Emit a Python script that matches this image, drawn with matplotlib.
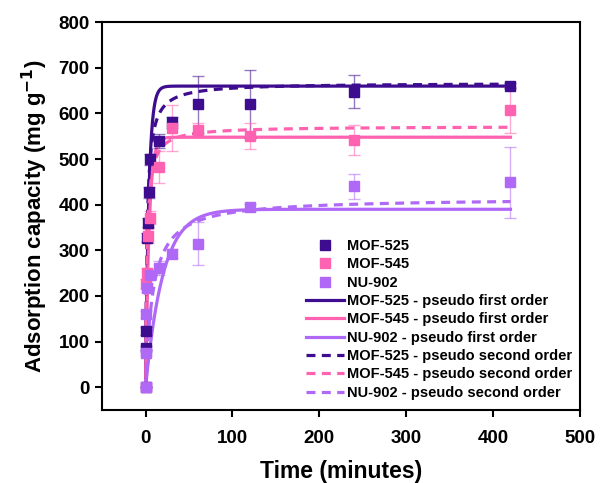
import numpy as np
import matplotlib
matplotlib.use("Agg")
import matplotlib.pyplot as plt
from matplotlib.lines import Line2D

plt.rcParams['font.family'] = ['Liberation Sans', 'DejaVu Sans']
plt.rcParams['font.weight'] = 'bold'
plt.rcParams['mathtext.default'] = 'bf'

# ---- data ----
t_525 = [0, 0.5, 1, 2, 3, 4, 5, 15, 30, 60, 120, 240, 420]
q_525 = [0, 86, 123, 328, 361, 427, 500, 540, 581, 620, 621, 648, 661]
e_525 = [0, 5, 8, 10, 10, 12, 12, 15, 12, 63, 75, 36, 6]

t_545 = [0, 1, 2, 3, 5, 15, 30, 60, 120, 240, 420]
q_545 = [0, 227, 250, 332, 372, 482, 568, 564, 551, 542, 608]
e_545 = [0, 10, 12, 15, 15, 35, 50, 15, 28, 33, 50]

t_902 = [0, 0.5, 1, 2, 5, 15, 30, 60, 120, 240, 420]
q_902 = [0, 75, 160, 218, 245, 262, 293, 315, 394, 440, 449]
e_902 = [0, 5, 8, 10, 10, 15, 10, 47, 8, 28, 78]

# kinetic fit parameters (qe, k)
pfo_525 = (660, 0.27)
pfo_545 = (548, 0.25)
pfo_902 = (390, 0.05)
pso_525 = (667, 0.00085)
pso_545 = (572, 0.00107)
pso_902 = (415, 0.000289)

names = ['MOF-525', 'MOF-545', 'NU-902']
colors = ['#3d0c8f', '#ff62b0', '#b069f7']

xticks = [0, 100, 200, 300, 400, 500]
yticks = [0, 100, 200, 300, 400, 500, 600, 700, 800]

fig = plt.figure(figsize=(6.01, 4.83), dpi=100)
ax = fig.add_axes([0.17, 0.151, 0.795, 0.803])

tt = np.linspace(0, 420, 3000)
def pfo(p):
    qe, k = p
    return qe * (1 - np.exp(-k * tt))
def pso(p):
    qe, k = p
    return qe * qe * k * tt / (1 + qe * k * tt)

lw = 2.3
dash = (0, (2.8, 2.0))
for p, c in zip([pfo_525, pfo_545, pfo_902], colors):
    ax.plot(tt, pfo(p), color=c, lw=lw, zorder=2)
for p, c in zip([pso_525, pso_545, pso_902], colors):
    ax.plot(tt, pso(p), color=c, lw=lw, ls=dash, zorder=2)

for t, q, e, c in zip([t_525, t_545, t_902], [q_525, q_545, q_902],
                      [e_525, e_545, e_902], colors):
    ax.errorbar(t, q, yerr=e, fmt='none', ecolor=c, alpha=0.55,
                elinewidth=1.0, capsize=4, capthick=1.0, zorder=3)
    ax.plot(t, q, 's', color=c, ms=7, zorder=4, ls='none')

ax.set_xlim(-50, 500)
ax.set_ylim(-50, 800)
ax.set_xticks(xticks)
ax.set_yticks(yticks)
ax.tick_params(axis='both', which='major', labelsize=13.5, width=1.5,
               length=5, direction='out')
ax.tick_params(axis='x', pad=9)
ax.tick_params(axis='y', pad=4)
for s in ax.spines.values():
    s.set_linewidth(1.5)

ax.set_xlabel('Time (minutes)', fontsize=16.5, fontweight='bold', labelpad=10)
ax.set_ylabel('Adsorption capacity (mg g$^{-1}$)', fontsize=16, fontweight='bold', labelpad=6)

handles = []
labels = []
for n, c in zip(names, colors):
    handles.append(Line2D([], [], marker='s', ls='none', color=c, ms=7))
    labels.append(n)
for n, c in zip(names, colors):
    handles.append(Line2D([], [], color=c, lw=lw))
    labels.append(n + ' - pseudo first order')
for n, c in zip(names, colors):
    handles.append(Line2D([], [], color=c, lw=lw, ls=dash))
    labels.append(n + ' - pseudo second order')

leg = ax.legend(handles, labels, loc='lower right', frameon=False,
                fontsize=10.5, labelspacing=0.3, handlelength=2.6,
                handletextpad=0.2, borderaxespad=0.3,
                bbox_to_anchor=(1.005, 0.0))
for txt in leg.get_texts():
    txt.set_fontweight('bold')

fig.savefig('out.png', dpi=100)
